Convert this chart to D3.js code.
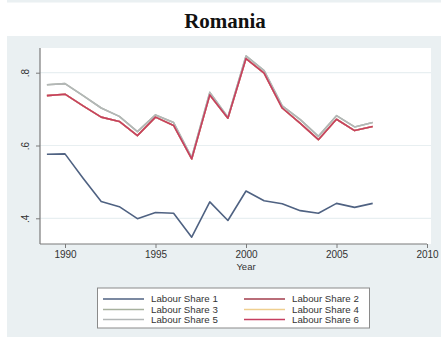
<!DOCTYPE html>
<html>
<head>
<meta charset="utf-8">
<script src="https://cdn.jsdelivr.net/npm/d3@7/dist/d3.min.js"></script>
<style>
  html, body { margin: 0; padding: 0; background: #ffffff; }
  svg { display: block; }
</style>
</head>
<body>
<svg id="chart" width="441" height="337"></svg>
<script>
// Labour share estimates for Romania, 1989–2007
const years = [1989, 1990, 1991, 1992, 1993, 1994, 1995, 1996, 1997, 1998,
               1999, 2000, 2001, 2002, 2003, 2004, 2005, 2006, 2007];

const labourShare1 = [0.576, 0.577, 0.510, 0.446, 0.432, 0.399, 0.416, 0.414, 0.348, 0.445,
                      0.394, 0.475, 0.448, 0.440, 0.421, 0.414, 0.441, 0.430, 0.441];
const labourShare2 = [0.737, 0.741, 0.709, 0.678, 0.666, 0.627, 0.678, 0.655, 0.563, 0.739,
                      0.675, 0.839, 0.799, 0.703, 0.661, 0.616, 0.672, 0.641, 0.652];
const labourShare3 = [0.767, 0.770, 0.737, 0.703, 0.680, 0.638, 0.684, 0.663, 0.567, 0.746,
                      0.678, 0.846, 0.806, 0.709, 0.671, 0.625, 0.682, 0.651, 0.663];
const labourShare4 = [0.737, 0.741, 0.709, 0.678, 0.666, 0.627, 0.678, 0.655, 0.563, 0.739,
                      0.675, 0.839, 0.799, 0.703, 0.661, 0.616, 0.672, 0.641, 0.652];
const labourShare5 = [0.767, 0.770, 0.737, 0.703, 0.680, 0.638, 0.684, 0.663, 0.567, 0.746,
                      0.678, 0.846, 0.806, 0.709, 0.671, 0.625, 0.682, 0.651, 0.663];
const labourShare6 = [0.737, 0.741, 0.709, 0.678, 0.666, 0.627, 0.678, 0.655, 0.563, 0.739,
                      0.675, 0.839, 0.799, 0.703, 0.661, 0.616, 0.672, 0.641, 0.652];

const seriesNames = ["Labour Share 1", "Labour Share 2", "Labour Share 3",
                     "Labour Share 4", "Labour Share 5", "Labour Share 6"];
const seriesColors = ["#4f6282", "#a23c4c", "#a7b19e", "#efcf8f", "#b3b7b7", "#c63f5f"];

const xTicks = [1990, 1995, 2000, 2005, 2010];
const yTicks = [0.4, 0.6, 0.8];
const yTickLabels = [".4", ".6", ".8"];
const titleText = "Romania";
const xTitle = "Year";

const allSeries = [labourShare1, labourShare2, labourShare3,
                   labourShare4, labourShare5, labourShare6];

const svg = d3.select("#chart");
const W = 441, H = 337;

// Outer graph region background and title band
svg.append("rect").attr("x", 0).attr("y", 0).attr("width", W).attr("height", H).attr("fill", "#ffffff");
svg.append("rect").attr("x", 7).attr("y", 0).attr("width", W - 7).attr("height", 2.5).attr("fill", "#eaf0f2");
svg.append("rect").attr("x", 7).attr("y", 36).attr("width", W - 7).attr("height", H - 36).attr("fill", "#eaf0f2");

svg.append("text")
  .attr("x", 225).attr("y", 28)
  .attr("text-anchor", "middle")
  .attr("font-family", "'Liberation Serif', 'Times New Roman', serif")
  .attr("font-weight", "bold")
  .attr("font-size", 21)
  .attr("fill", "#111")
  .text(titleText);

// Plot region
const plot = { left: 40, right: 431, top: 48, bottom: 244 };
svg.append("rect")
  .attr("x", plot.left).attr("y", plot.top)
  .attr("width", plot.right - plot.left).attr("height", plot.bottom - plot.top)
  .attr("fill", "#ffffff");

const x = d3.scaleLinear().domain([1990, 2010]).range([65, 427]);
const y = d3.scaleLinear().domain([0.4, 0.8]).range([218.3, 72.7]);

// Horizontal grid lines
svg.append("g").selectAll("line").data(yTicks).join("line")
  .attr("x1", plot.left).attr("x2", plot.right)
  .attr("y1", d => y(d)).attr("y2", d => y(d))
  .attr("stroke", "#e8eff1").attr("stroke-width", 1.2);

// Series lines
const line = d3.line()
  .x((d, i) => x(years[i]))
  .y(d => y(d));

svg.append("g").selectAll("path").data(allSeries).join("path")
  .attr("d", d => line(d))
  .attr("fill", "none")
  .attr("stroke", (d, i) => seriesColors[i])
  .attr("stroke-width", 1.6)
  .attr("stroke-linejoin", "round");

// Axes
const axisColor = "#7a7a7a";
const yAxis = svg.append("g")
  .attr("transform", `translate(${plot.left},0)`)
  .call(d3.axisLeft(y).tickValues(yTicks).tickSize(4).tickPadding(5)
        .tickFormat((d, i) => yTickLabels[i]));
yAxis.select(".domain").remove();
yAxis.append("line")
  .attr("x1", 0).attr("x2", 0).attr("y1", plot.top).attr("y2", plot.bottom)
  .attr("stroke", axisColor).attr("stroke-width", 1.2);
yAxis.selectAll(".tick line").attr("stroke", axisColor);
yAxis.selectAll(".tick text")
  .attr("font-family", "'Liberation Sans', Arial, sans-serif")
  .attr("font-size", 10)
  .attr("fill", "#333")
  .attr("text-anchor", "middle")
  .attr("x", 0).attr("dy", 0)
  .attr("transform", "translate(-11,0) rotate(-90)")
  .attr("dominant-baseline", "auto");

const xAxis = svg.append("g")
  .attr("transform", `translate(0,${plot.bottom})`)
  .call(d3.axisBottom(x).tickValues(xTicks).tickSize(4).tickPadding(3)
        .tickFormat(d3.format("d")));
xAxis.select(".domain").remove();
xAxis.append("line")
  .attr("x1", plot.left).attr("x2", x(2010)).attr("y1", 0).attr("y2", 0)
  .attr("stroke", axisColor).attr("stroke-width", 1.2);
xAxis.selectAll(".tick line").attr("stroke", axisColor);
xAxis.selectAll(".tick text")
  .attr("font-family", "'Liberation Sans', Arial, sans-serif")
  .attr("font-size", 10)
  .attr("fill", "#333");

svg.append("text")
  .attr("x", x(2000)).attr("y", 270)
  .attr("text-anchor", "middle")
  .attr("font-family", "'Liberation Sans', Arial, sans-serif")
  .attr("font-size", 9.5)
  .attr("fill", "#333")
  .text(xTitle);

// Legend
const legend = svg.append("g");
legend.append("rect")
  .attr("x", 97.5).attr("y", 288).attr("width", 272).attr("height", 40)
  .attr("fill", "#ffffff").attr("stroke", "#8a8a8a").attr("stroke-width", 1);

const colX = [103, 244];
const rowY = [299, 309.5, 319.5];
const items = legend.selectAll("g.item").data(seriesNames).join("g").attr("class", "item")
  .attr("transform", (d, i) => `translate(${colX[i % 2]},${rowY[Math.floor(i / 2)]})`);
items.append("line")
  .attr("x1", 0).attr("x2", 41).attr("y1", 0).attr("y2", 0)
  .attr("stroke", (d, i) => seriesColors[i]).attr("stroke-width", 1.3);
items.append("text")
  .attr("x", 48).attr("y", 3.4)
  .attr("font-family", "'Liberation Sans', Arial, sans-serif")
  .attr("font-size", 9.7)
  .attr("fill", "#333")
  .text(d => d);
</script>
</body>
</html>
